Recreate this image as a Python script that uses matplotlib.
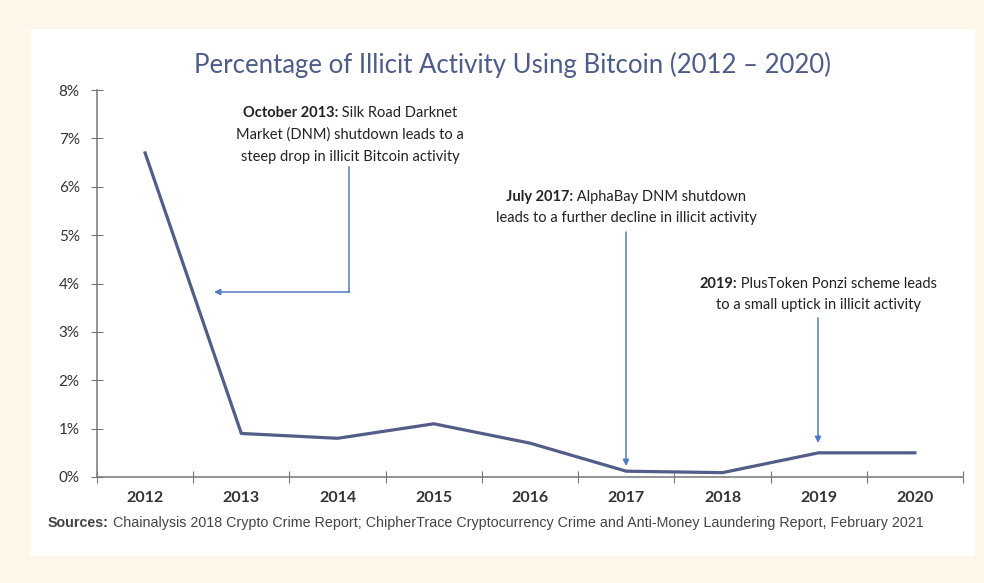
import numpy as np
from matplotlib import pyplot as plt
from matplotlib.patches import Rectangle

years = ['2012', '2013', '2014', '2015', '2016', '2017', '2018', '2019', '2020']
illicit_pct = [6.7, 0.9, 0.8, 1.1, 0.7, 0.12, 0.09, 0.5, 0.5]
y_ticks = [0, 1, 2, 3, 4, 5, 6, 7, 8]

line_col = '#525d88'
arrow_col = '#4f7cc2'
txt_col = '#222222'

fig = plt.figure(figsize=(9.84, 5.83), dpi=100, facecolor='#fdf7ea')
fig.patches.append(Rectangle((30/984, 1-556/583), 945/984, 527/583,
                             transform=fig.transFigure, facecolor='white',
                             edgecolor='none', zorder=-5))

ax = fig.add_axes([97/984, 1-477/583, 866/984, 387/583])
ax.set_facecolor('none')
x = np.arange(len(years))
ax.plot(x, illicit_pct, color=line_col, lw=2.3, solid_joinstyle='round', zorder=3)

ax.set_xlim(-0.5, len(years)-0.5)
ax.set_ylim(0, 8)
for s in ['top', 'right']:
    ax.spines[s].set_visible(False)
for s in ['left', 'bottom']:
    ax.spines[s].set_color('#777777')
    ax.spines[s].set_linewidth(1.1)

ax.set_xticks(np.arange(-0.5, len(years), 1.0))
ax.set_xticklabels([])
ax.set_xticks(x, minor=True)
ax.set_xticklabels(years, minor=True, family='Lato', fontweight='bold',
                   fontsize=11.5, color='#333333')
ax.tick_params(axis='x', which='major', direction='inout', length=9, color='#777777')
ax.tick_params(axis='x', which='minor', length=0, pad=10)
ax.set_yticks(y_ticks)
ax.set_yticklabels(['%d%%' % v for v in y_ticks], family='Lato', fontsize=11,
                   color='#333333')
ax.tick_params(axis='y', direction='inout', length=9, color='#777777', pad=8)

fig.text(512/984, 1-65/583, 'Percentage of Illicit Activity Using Bitcoin (2012 \u2013 2020)',
         ha='center', va='center', family='Lato', fontsize=18.5,
         color='#4e5c8a')

# annotations: text in pixels from top-left of the figure
notes = [
    (350, [113, 135, 157], ['October 2013:', ' Silk Road Darknet'],
     ['Market (DNM) shutdown leads to a', 'steep drop in illicit Bitcoin activity']),
    (626, [197, 218], ['July 2017:', ' AlphaBay DNM shutdown'],
     ['leads to a further decline in illicit activity']),
    (818, [284, 305], ['2019:', ' PlusToken Ponzi scheme leads'],
     ['to a small uptick in illicit activity']),
]
fig.canvas.draw()
rend = fig.canvas.get_renderer()
for cx, ys, first, rest in notes:
    tb = fig.text(0, 0, first[0], family='Lato', fontweight='bold', fontsize=10.5,
                  color=txt_col, va='center')
    tr = fig.text(0, 0, first[1], family='Lato', fontsize=10.5, color=txt_col,
                  va='center')
    wb = tb.get_window_extent(rend).width
    wr = tr.get_window_extent(rend).width
    x0 = cx - (wb + wr) / 2
    tb.set_position((x0/984, 1-ys[0]/583))
    tr.set_position(((x0+wb)/984, 1-ys[0]/583))
    for yy, line in zip(ys[1:], rest):
        fig.text(cx/984, 1-yy/583, line, family='Lato', fontsize=10.5, color=txt_col,
                 ha='center', va='center')

# arrows (figure pixel coordinates)
def fpx(px, py):
    return (px/984, 1-py/583)

fig.add_artist(plt.Line2D([349/984, 349/984], [1-167/583, 1-292/583],
                          color=arrow_col, lw=1.1, transform=fig.transFigure))
ax.annotate('', xy=fpx(214, 292), xytext=fpx(349.5, 292), xycoords='figure fraction',
            textcoords='figure fraction',
            arrowprops=dict(arrowstyle='-|>', color=arrow_col, lw=1.1,
                            mutation_scale=9, shrinkA=0, shrinkB=0))
ax.annotate('', xy=fpx(626, 466), xytext=fpx(626, 232), xycoords='figure fraction',
            textcoords='figure fraction',
            arrowprops=dict(arrowstyle='-|>', color=arrow_col, lw=1.1,
                            mutation_scale=9, shrinkA=0, shrinkB=0))
ax.annotate('', xy=fpx(818, 443), xytext=fpx(818, 318), xycoords='figure fraction',
            textcoords='figure fraction',
            arrowprops=dict(arrowstyle='-|>', color=arrow_col, lw=1.1,
                            mutation_scale=9, shrinkA=0, shrinkB=0))

# sources line
ts = fig.text(48/984, 1-523/583, 'Sources:', family='Liberation Sans',
              fontweight='bold', fontsize=10.3, color='#444444', va='center')
ws = ts.get_window_extent(rend).width
fig.text((48+ws)/984, 1-523/583,
         ' Chainalysis 2018 Crypto Crime Report; ChipherTrace Cryptocurrency Crime and Anti-Money Laundering Report, February 2021',
         family='Liberation Sans', fontsize=10.3, color='#444444', va='center')

fig.savefig('out.png', dpi=100, facecolor=fig.get_facecolor())
